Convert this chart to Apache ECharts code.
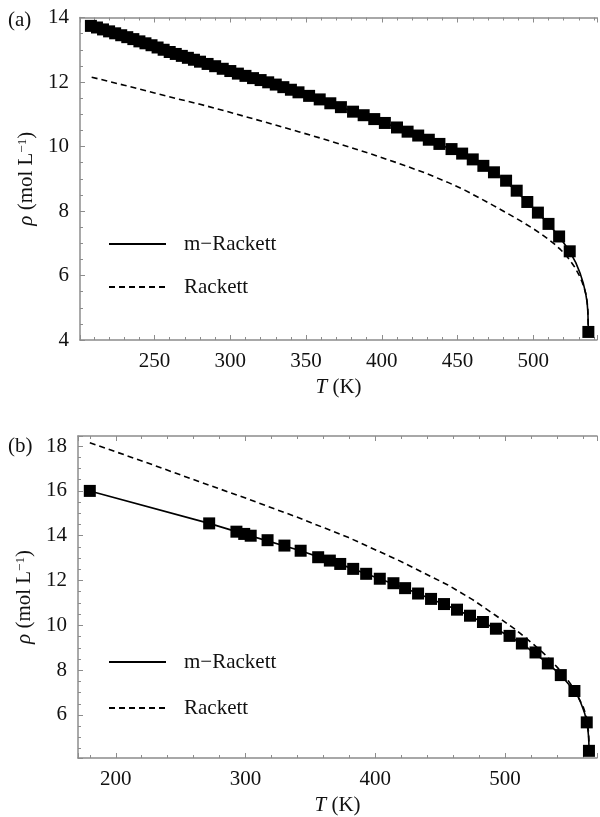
<!DOCTYPE html>
<html><head><meta charset="utf-8">
<script src="https://cdn.jsdelivr.net/npm/echarts@6/dist/echarts.min.js"></script>
<style>html,body{margin:0;padding:0;background:#fff}#c{width:600px;height:817px}</style>
</head><body><div id="c"></div>
<script>
// ---------- Panel (a) ----------
const aExpT = [208,212,216,220,224,228,232,236,240,244,248,252,256,260,264,268,272,276,280,285,290,295,300,305,310,315,320,325,330,335,340,345,352,359,366,373,381,388,395,402,410,417,424,431,438,446,453,460,467,474,482,489,496,503,510,517,524,536.3];
const aExpRho = [13.74,13.69,13.63,13.57,13.51,13.45,13.39,13.33,13.26,13.20,13.14,13.07,13.00,12.93,12.87,12.81,12.75,12.69,12.63,12.56,12.49,12.41,12.34,12.26,12.19,12.12,12.06,11.99,11.92,11.84,11.76,11.68,11.57,11.46,11.34,11.22,11.08,10.97,10.85,10.73,10.59,10.46,10.34,10.21,10.08,9.92,9.78,9.60,9.40,9.20,8.94,8.63,8.28,7.95,7.60,7.21,6.75,4.25];
const aMRT = [208,230,250,280,310,345,380,410,440,460,480,496,503,510,517,524,528,531,533,534.5,535.5,536,536.3];
const aMRRho = [13.74,13.42,13.10,12.63,12.19,11.68,11.10,10.59,10.03,9.60,9.00,8.28,7.95,7.60,7.21,6.75,6.40,6.05,5.75,5.45,5.15,4.85,4.25];
const aRT = [208.5,230,250,265,280,296,312,328,345,361,378,394,411,428,444,455,465,474,482,491,500,505,510,514,518,521,524,527,530,532,533.5,534.5,535.3,535.9,536.3];
const aRRho = [12.15,11.90,11.66,11.48,11.31,11.11,10.90,10.69,10.46,10.24,9.99,9.75,9.48,9.19,8.88,8.64,8.39,8.16,7.95,7.71,7.45,7.29,7.12,6.97,6.80,6.66,6.48,6.28,6.03,5.82,5.62,5.45,5.25,5.00,4.25];
const aXTicks = [250,300,350,400,450,500];
const aYTicks = [4,6,8,10,12,14];

// ---------- Panel (b) ----------
const bExpT = [180,272,293,299,304,317,330,342.5,356,365,373,383,393,403.5,414,423,433,443,453,463,473,483,493,503.5,513,523.5,533,543,553.5,563,564.7];
const bExpRho = [16.00,14.55,14.18,14.08,14.00,13.80,13.56,13.33,13.04,12.89,12.74,12.52,12.30,12.08,11.88,11.66,11.42,11.18,10.95,10.70,10.43,10.15,9.85,9.53,9.19,8.79,8.30,7.78,7.07,5.67,4.40];
const bMRT = [180,272,300,342.5,383,423,463,493,513,533,543,553.5,556,558,560,561.5,563,563.8,564.3,564.6,564.8];
const bMRRho = [16.00,14.55,14.06,13.33,12.52,11.66,10.70,9.85,9.19,8.30,7.78,7.07,6.85,6.60,6.30,6.05,5.67,5.38,5.10,4.80,4.40];
const bRT = [180,222,264,300,341,379,418,456,475,492.6,508,522,530,536.8,541,545,548.5,551.5,554,556,558,560.3,561.8,563,563.8,564.3,564.6,564.8];
const bRRho = [18.15,17.30,16.42,15.68,14.80,13.93,12.90,11.80,11.15,10.45,9.82,9.15,8.74,8.35,8.08,7.80,7.55,7.30,7.05,6.85,6.62,6.35,6.10,5.85,5.55,5.25,4.95,4.40];
const bXTicks = [200,300,400,500];
const bYTicks = [6,8,10,12,14,16,18];

const names = ['m\u2212Rackett', 'Rackett'];

const FONT = '"Liberation Serif", "DejaVu Serif", serif';
const AX = '#8c8c8c';
const TXT = '#111';
const zip = (xs, ys) => xs.map((x, i) => [x, ys[i]]);
const fmt = list => v => (list.some(t => Math.abs(t - v) < 1e-6) ? String(Math.round(v)) : '');

function axis(gridIndex, min, max, split, minorSplit, ticks, extra) {
  return Object.assign({
    type: 'value', gridIndex, min, max, splitNumber: split, scale: true,
    axisLine: { show: true, onZero: false, lineStyle: { color: AX, width: 1.5 } },
    axisTick: { show: true, inside: true, length: 5, lineStyle: { color: AX, width: 1 } },
    minorTick: { show: true, splitNumber: minorSplit, length: 3, lineStyle: { color: AX, width: 1 } },
    splitLine: { show: false },
    axisLabel: { show: true, formatter: fmt(ticks), color: TXT, fontFamily: FONT, fontSize: 21, margin: 11,
                 showMinLabel: true, showMaxLabel: true, hideOverlap: false },
  }, extra || {});
}
const xName = {
  name: '{i|T} (K)', nameLocation: 'middle', nameGap: 37,
  nameTextStyle: { fontFamily: FONT, fontSize: 21, color: TXT,
    rich: { i: { fontFamily: FONT, fontSize: 21, fontStyle: 'italic', color: TXT } } }
};
const yName = {
  name: '{i|\u03c1} (mol L{s|\u22121})', nameLocation: 'middle', nameGap: 38,
  nameTextStyle: { fontFamily: FONT, fontSize: 21, color: TXT,
    rich: { i: { fontFamily: FONT, fontSize: 21, fontStyle: 'italic', color: TXT },
            s: { fontFamily: FONT, fontSize: 13, color: TXT, verticalAlign: 'top' } } }
};
const noLabel = { axisLabel: { show: false } };

const solid = { color: '#000', width: 1.6, type: 'solid' };
const dashed = { color: '#000', width: 1.6, type: [6, 4] };

const legendBase = {
  data: names, orient: 'vertical', left: 108, itemWidth: 57, itemHeight: 14,
  selectedMode: false, padding: 0,
  itemStyle: { opacity: 0 },
  textStyle: { fontFamily: FONT, fontSize: 21, color: TXT, lineHeight: 24, padding: [0, 0, 0, 13] }
};

const option = {
  animation: false,
  backgroundColor: '#fff',
  grid: [
    { left: 80, right: 0, top: 17.5, bottom: 477 },
    { left: 78, right: 0, top: 436, bottom: 57 }
  ],
  xAxis: [
    axis(0, 200.8, 542, 7, 5, aXTicks, Object.assign({ position: 'bottom' }, xName)),
    axis(0, 200.8, 542, 7, 5, aXTicks, Object.assign({ position: 'top' }, noLabel)),
    axis(1, 170.9, 570.9, 4, 5, bXTicks, Object.assign({ position: 'bottom' }, xName)),
    axis(1, 170.9, 570.9, 4, 5, bXTicks, Object.assign({ position: 'top' }, noLabel))
  ],
  yAxis: [
    axis(0, 4, 14, 5, 4, aYTicks, Object.assign({ position: 'left' }, yName)),
    axis(1, 4.08, 18.45, 7, 4, bYTicks, Object.assign({ position: 'left' }, yName))
  ],
  legend: [
    Object.assign({}, legendBase, { top: 232, itemGap: 19 }),
    Object.assign({}, legendBase, { top: 650, itemGap: 22 })
  ],
  graphic: [
    { type: 'text', left: 8, top: 10, style: { text: '(a)', font: '21px "Liberation Serif"', fill: TXT } },
    { type: 'text', left: 8, top: 436, style: { text: '(b)', font: '21px "Liberation Serif"', fill: TXT } }
  ],
  series: [
    { name: names[0], type: 'line', xAxisIndex: 0, yAxisIndex: 0, data: zip(aMRT, aMRRho),
      symbol: 'none', smooth: false, lineStyle: solid, itemStyle: { color: '#000' }, z: 2 },
    { name: names[1], type: 'line', xAxisIndex: 0, yAxisIndex: 0, data: zip(aRT, aRRho),
      symbol: 'none', smooth: false, lineStyle: dashed, itemStyle: { color: '#000' }, z: 2 },
    { name: 'exp-a', type: 'scatter', xAxisIndex: 0, yAxisIndex: 0, data: zip(aExpT, aExpRho),
      symbol: 'rect', symbolSize: 12, itemStyle: { color: '#000', opacity: 1 }, z: 3 },
    { name: names[0], type: 'line', xAxisIndex: 2, yAxisIndex: 1, data: zip(bMRT, bMRRho),
      symbol: 'none', smooth: false, lineStyle: solid, itemStyle: { color: '#000' }, z: 2 },
    { name: names[1], type: 'line', xAxisIndex: 2, yAxisIndex: 1, data: zip(bRT, bRRho),
      symbol: 'none', smooth: false, lineStyle: dashed, itemStyle: { color: '#000' }, z: 2 },
    { name: 'exp-b', type: 'scatter', xAxisIndex: 2, yAxisIndex: 1, data: zip(bExpT, bExpRho),
      symbol: 'rect', symbolSize: 12, itemStyle: { color: '#000', opacity: 1 }, z: 3 }
  ]
};
const chart = echarts.init(document.getElementById('c'), null, { renderer: 'canvas' });
chart.setOption(option);
</script>
</body></html>
